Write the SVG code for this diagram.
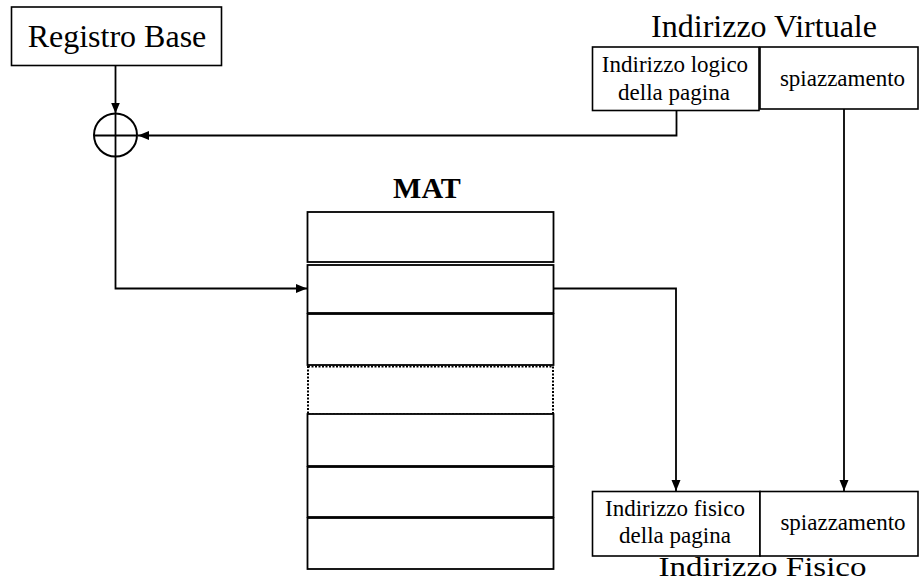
<svg xmlns="http://www.w3.org/2000/svg" width="920" height="585" viewBox="0 0 920 585">
<style>
text{font-family:"Liberation Serif","Times New Roman",serif;fill:#000}
.big{font-size:32px}
.sm{font-size:23px}
.box{fill:#fff;stroke:#000;stroke-width:1.6}
.row{fill:#fff;stroke:#000;stroke-width:1.8}
.dot{fill:#fff;stroke:#000;stroke-width:2;stroke-dasharray:2 1.5}
.conn{fill:none;stroke:#000;stroke-width:1.8}
</style>
<defs>
<marker id="ah" markerUnits="userSpaceOnUse" markerWidth="12" markerHeight="10" refX="11" refY="5" orient="auto">
<path d="M0,0.5 L11,5 L0,9.5 z" fill="#000"/>
</marker>
</defs>
<rect width="920" height="585" fill="#fff"/>

<g id="registro-base">
<rect class="box" x="11.5" y="7" width="210" height="58.5"/>
<text class="big" x="117" y="47" text-anchor="middle">Registro Base</text>
</g>

<g id="sommatore">
<circle cx="115.5" cy="135" r="21.5" fill="#fff" stroke="#000" stroke-width="2"/>
<line x1="94" y1="135.5" x2="137" y2="135.5" stroke="#000" stroke-width="1.8"/>
<line x1="115.5" y1="113.5" x2="115.5" y2="156.5" stroke="#000" stroke-width="1.8"/>
</g>

<g id="indirizzo-virtuale">
<text class="big" x="764" y="37" text-anchor="middle">Indirizzo Virtuale</text>
<rect class="box" x="592.5" y="47" width="166.5" height="63.5"/>
<text class="sm" x="675" y="72" text-anchor="middle">Indirizzo logico</text>
<text class="sm" x="674" y="100" text-anchor="middle">della pagina</text>
<rect class="box" x="760" y="47" width="158" height="62"/>
<text class="sm" x="842.5" y="86" text-anchor="middle">spiazzamento</text>
</g>

<g id="mat">
<text x="427" y="198" text-anchor="middle" font-size="30" font-weight="bold">MAT</text>
<rect class="row" x="307.5" y="212" width="246" height="50"/>
<rect class="row" x="307.5" y="265" width="246" height="48"/>
<rect class="row" x="307.5" y="314" width="246" height="51"/>
<rect class="dot" x="308" y="366.5" width="245" height="48"/>
<rect class="row" x="307.5" y="414" width="246" height="52"/>
<rect class="row" x="307.5" y="467" width="246" height="50"/>
<rect class="row" x="307.5" y="518" width="246" height="51"/>
</g>

<g id="indirizzo-fisico">
<rect class="box" x="592.5" y="491.5" width="167.5" height="64.5"/>
<text class="sm" x="675" y="516" text-anchor="middle">Indirizzo fisico</text>
<text class="sm" x="675" y="543" text-anchor="middle">della pagina</text>
<rect class="box" x="760" y="491.5" width="158" height="64.5"/>
<text class="sm" x="843" y="530" text-anchor="middle">spiazzamento</text>
<text x="762.5" y="576" text-anchor="middle" font-size="27" textLength="208" lengthAdjust="spacingAndGlyphs">Indirizzo Fisico</text>
</g>

<g id="connectors">
<line class="conn" x1="115.5" y1="65.5" x2="115.5" y2="113.5" marker-end="url(#ah)"/>
<polyline class="conn" points="676.5,110.5 676.5,135.5 138,135.5" marker-end="url(#ah)"/>
<polyline class="conn" points="115.5,156.5 115.5,288.5 307,288.5" marker-end="url(#ah)"/>
<polyline class="conn" points="553.5,288.5 676,288.5 676,491" marker-end="url(#ah)"/>
<line class="conn" x1="844" y1="109" x2="844" y2="491" marker-end="url(#ah)"/>
</g>
</svg>
